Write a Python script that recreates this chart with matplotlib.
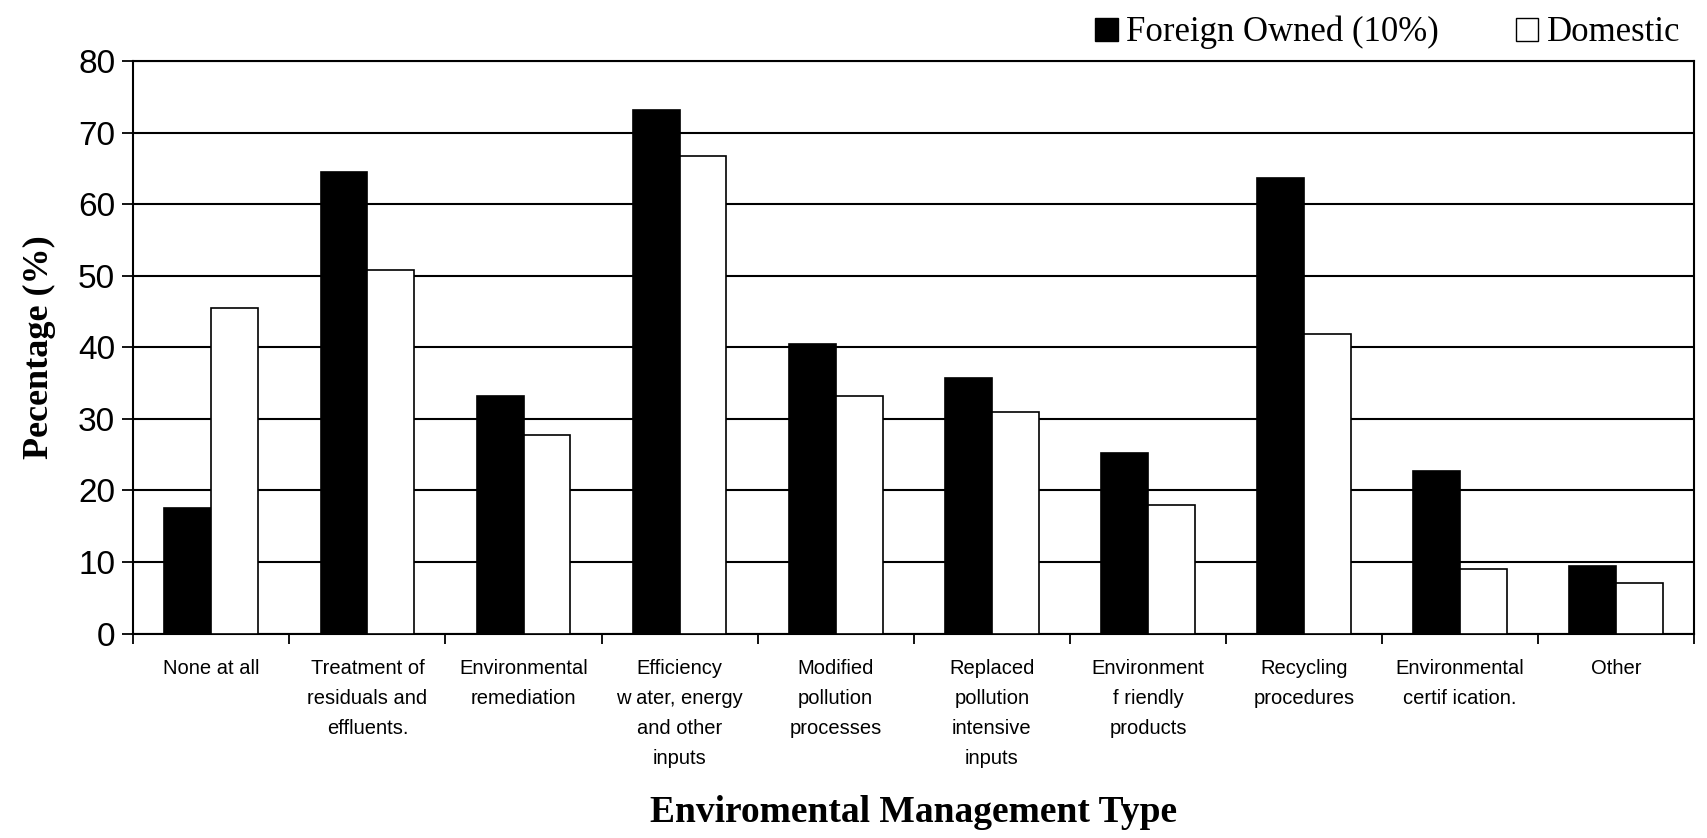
import numpy as np
import matplotlib.pyplot as plt
from matplotlib.patches import Patch

# categorias e valores
categorias = ["None at all", "Treatment of\nresiduals and\neffluents.", "Environmental\nremediation",
              "Efficiency\nw ater, energy\nand other\ninputs", "Modified\npollution\nprocesses",
              "Replaced\npollution\nintensive\ninputs", "Environment\nf riendly\nproducts",
              "Recycling\nprocedures", "Environmental\ncertif ication.", "Other"]
foreign = [17.6, 64.5, 33.2, 73.2, 40.5, 35.7, 25.2, 63.7, 22.7, 9.4]
domestic = [45.5, 50.8, 27.7, 66.8, 33.2, 31.0, 17.9, 41.8, 9.0, 7.0]
yticks = [0, 10, 20, 30, 40, 50, 60, 70, 80]

sans = ['Liberation Sans', 'DejaVu Sans']
serif = ['Liberation Serif', 'DejaVu Serif']

fig = plt.figure(figsize=(17.08, 8.38), dpi=100)
ax = fig.add_axes([0.078, 0.244, 0.914, 0.683])

x = np.arange(len(categorias))
w = 0.3
ax.bar(x - w/2, foreign, w, color='black', edgecolor='black', linewidth=1.2, zorder=3)
ax.bar(x + w/2, domestic, w, color='white', edgecolor='black', linewidth=1.2, zorder=3)

ax.set_xlim(-0.5, len(categorias) - 0.5)
ax.set_ylim(0, 80)
ax.set_yticks(yticks)
ax.set_yticklabels([str(v) for v in yticks], fontsize=24, family=sans)
ax.yaxis.grid(True, color='black', linewidth=1.5, zorder=1)

ax.set_xticks(np.arange(len(categorias) + 1) - 0.5)
ax.set_xticklabels([])
ax.set_xticks(x, minor=True)
ax.set_xticklabels(categorias, minor=True, fontsize=14.5, family=sans, linespacing=1.74, va='top')
ax.tick_params(axis='x', which='minor', length=0, pad=18)
ax.tick_params(axis='x', which='major', length=7, width=1.3, direction='out')
ax.tick_params(axis='y', length=8, width=1.3, direction='out', pad=5)

for s in ax.spines.values():
    s.set_linewidth(1.5)

ax.set_ylabel("Pecentage (%)", fontsize=26, fontweight='bold', family=serif, labelpad=16)
fig.text(0.535, 0.03, "Enviromental Management Type", fontsize=27, fontweight='bold',
         family=serif, ha='center', va='center')

handles = [Patch(facecolor='black', edgecolor='black'), Patch(facecolor='white', edgecolor='black')]
fig.legend(handles, ["Foreign Owned (10%)", "Domestic"], loc='upper right',
           bbox_to_anchor=(0.998, 1.01), ncol=2, frameon=False,
           prop={'family': serif, 'size': 25}, handlelength=0.65, handleheight=0.65,
           handletextpad=0.25, columnspacing=2.2, borderaxespad=0.3)

fig.savefig("out.png", dpi=100)
